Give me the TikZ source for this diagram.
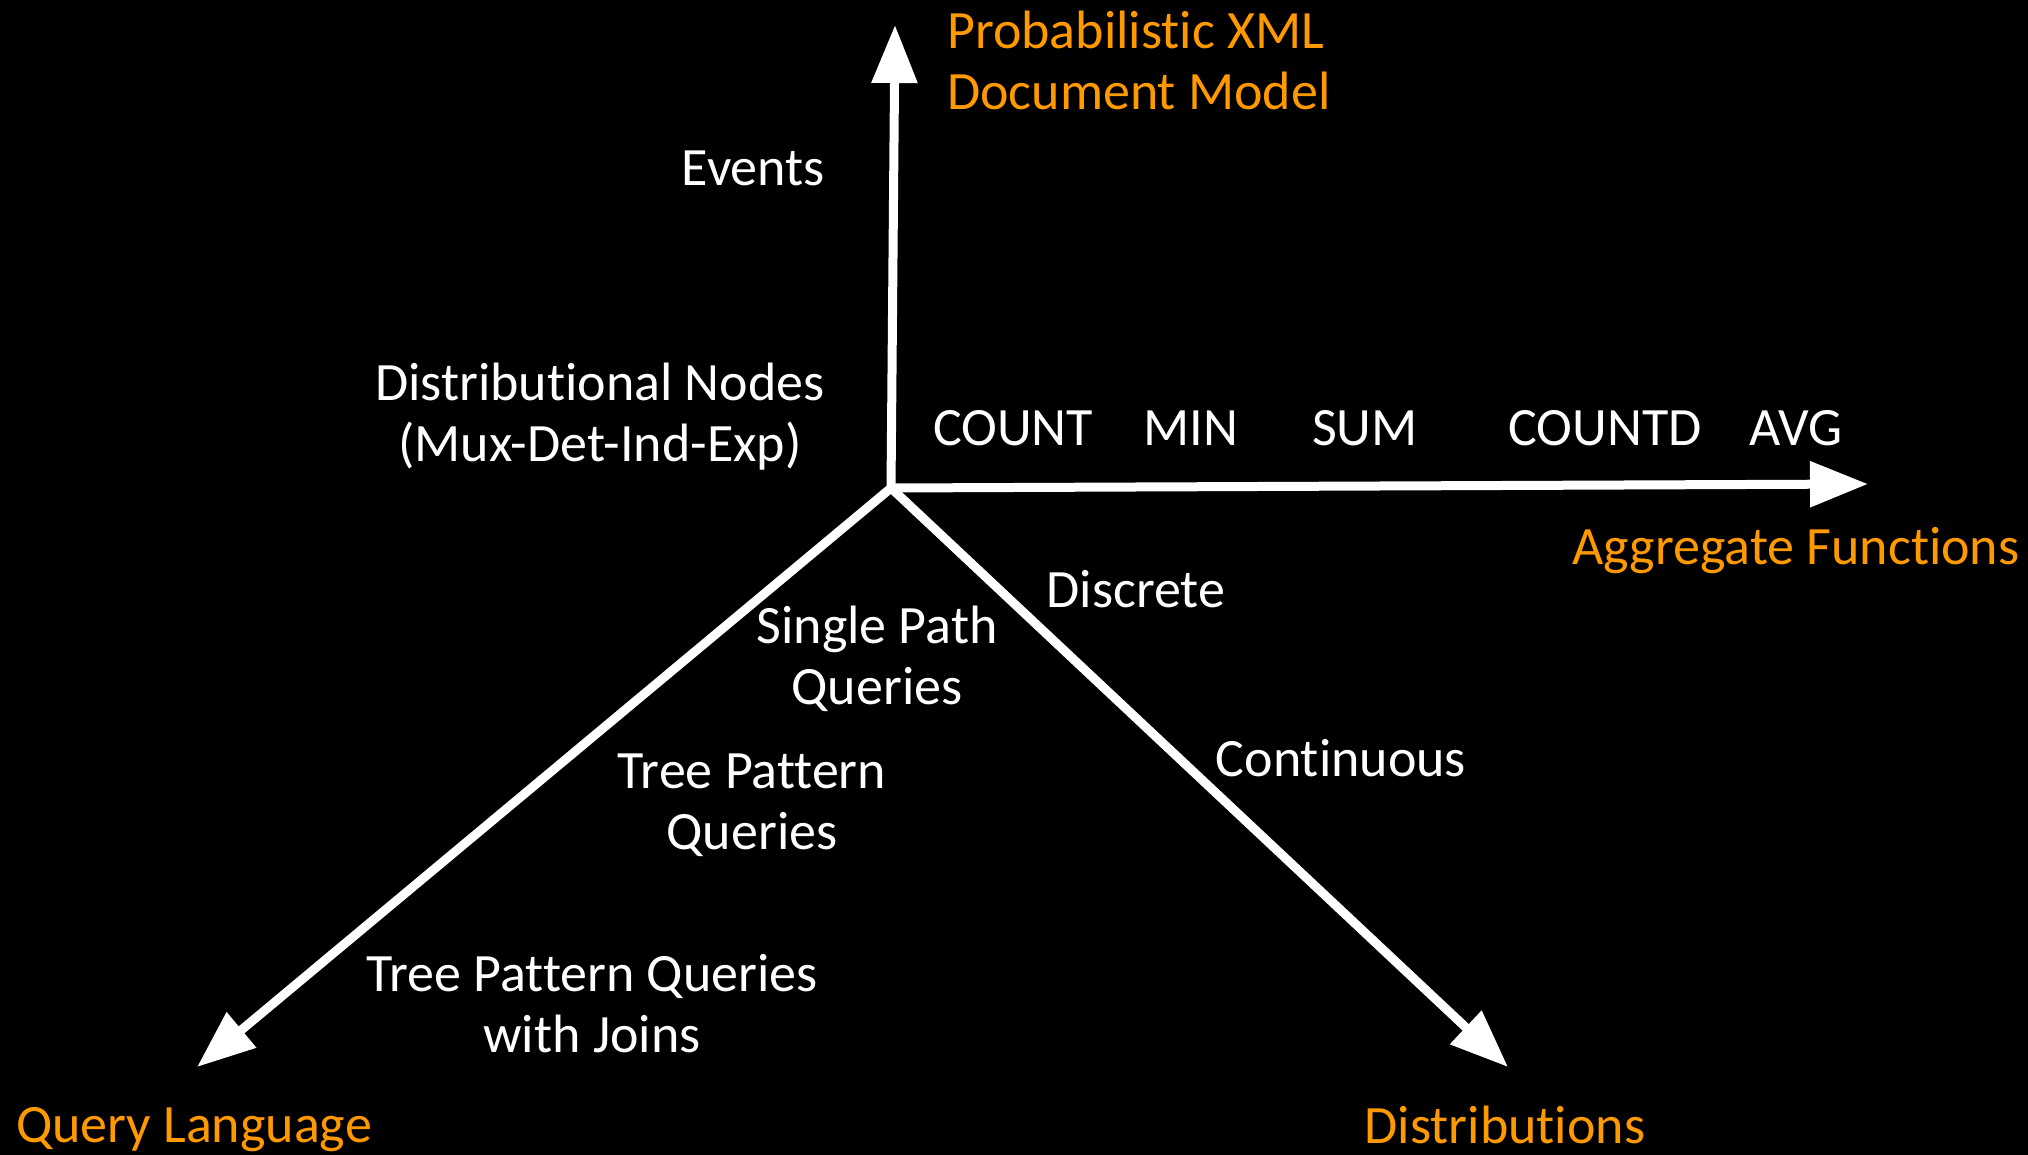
\documentclass[tikz,border=0pt]{standalone}
\usepackage{fontspec}
\setmainfont{Carlito}[Ligatures=NoCommon]
\usepackage{tikz}
\usetikzlibrary{arrows.meta,calc}
\definecolor{axisorange}{RGB}{255,153,0}
\tikzset{
  axis/.style={draw=white, line width=9pt, -{Triangle[length=58pt,width=44pt]}},
  lbl/.style={text=white, inner sep=0pt, align=center, anchor=base,
    font=\fontsize{54}{61}\selectfont},
  axlbl/.style={lbl, text=axisorange}
}
\begin{document}
\begin{tikzpicture}[x=1pt,y=-1pt]
\fill[black] (0,0) rectangle (2028,1155);
\useasboundingbox (0,0) rectangle (2028,1155);

\coordinate (o) at (891,488);
\coordinate (docmodel) at (895,25);
\coordinate (aggr) at (1868,484);
\coordinate (query) at (197,1067);
\coordinate (distr) at (1508,1067);

\draw[axis] (o) -- (docmodel);
\draw[axis] (o) -- (aggr);
\draw[axis] (o) -- (query);
\draw[axis] (o) -- (distr);

% axis names (two-line nodes sit on the baseline of their last line)
\node[axlbl, anchor=base west, align=left] (probxml) at (947,110) {Probabilistic XML\\Document Model};
\node[axlbl] (aggfun) at (1796,564) {Aggregate Functions};
\node[axlbl] (querylang) at (194,1142) {Query Language};
\node[axlbl] (distlbl) at (1505,1143) {Distributions};

% document model
\node[lbl, anchor=base east] (events) at (825,186) {Events};
\node[lbl] (distnodes) at (600,461) {Distributional Nodes\\(Mux-Det-Ind-Exp)};

% aggregates
\node[lbl] (count) at (1013,445) {COUNT};
\node[lbl] (min) at (1191,445) {MIN};
\node[lbl] (sum) at (1365,445) {SUM};
\node[lbl] (countd) at (1605,445) {COUNTD};
\node[lbl] (avg) at (1796,445) {AVG};

% distributions
\node[lbl] (discrete) at (1136,607) {Discrete};
\node[lbl] (continuous) at (1341,776) {Continuous};

% queries
\node[lbl] (singlepath) at (877,704) {Single Path\\Queries};
\node[lbl] (treepat) at (752,849) {Tree Pattern\\Queries};
\node[lbl] (treejoin) at (592,1052) {Tree Pattern Queries\\with Joins};
\end{tikzpicture}
\end{document}
